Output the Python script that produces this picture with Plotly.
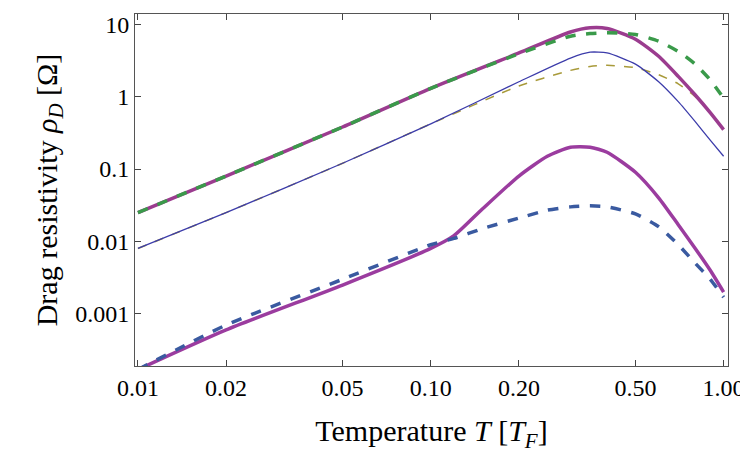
import plotly.graph_objects as go

T_hi = [0.01, 0.02, 0.05, 0.1, 0.2, 0.3, 0.35, 0.4, 0.5, 0.6, 0.7, 0.8, 0.9, 1.0]
A = [0.025, 0.08, 0.38, 1.3, 4.0, 7.8, 8.9, 8.7, 6.2, 3.6, 1.9, 1.05, 0.6, 0.35]
B = [0.025, 0.08, 0.38, 1.3, 3.9, 6.8, 7.4, 7.6, 7.2, 5.8, 4.2, 2.8, 1.7, 0.95]
C = [0.008, 0.025, 0.12, 0.42, 1.6, 3.4, 4.1, 4.0, 2.8, 1.6, 0.85, 0.45, 0.25, 0.15]
D = [0.008, 0.025, 0.12, 0.42, 1.4, 2.3, 2.6, 2.7, 2.5, 2.0, 1.5, 1.0, 0.6, 0.35]
T_lo = [0.01, 0.02, 0.05, 0.1, 0.12, 0.15, 0.2, 0.25, 0.3, 0.35, 0.4, 0.5, 0.6, 0.7, 0.8, 0.9, 1.0]
E = [0.00017, 0.0006, 0.0025, 0.008, 0.012, 0.028, 0.08, 0.15, 0.2, 0.2, 0.17, 0.09, 0.04, 0.017, 0.008, 0.004, 0.002]
F = [0.00017, 0.0007, 0.003, 0.009, 0.011, 0.015, 0.021, 0.027, 0.03, 0.031, 0.03, 0.024, 0.016, 0.009, 0.005, 0.003, 0.0017]

xt = [0.01, 0.02, 0.05, 0.1, 0.2, 0.5, 1.0]
xtl = ["0.01", "0.02", "0.05", "0.10", "0.20", "0.50", "1.00"]
yt = [0.001, 0.01, 0.1, 1, 10]
ytl = ["0.001", "0.01", "0.1", "1", "10"]

fig = go.Figure()
def add(x, y, color, width, dash):
    fig.add_trace(go.Scatter(x=x, y=y, mode="lines", line=dict(color=color, width=width, dash=dash, shape="spline", smoothing=0.6)))
add(T_hi, D, "#a89a3a", 1.5, "dash")
add(T_hi, C, "#3c3caa", 1.3, "solid")
add(T_hi, A, "#9b3c8f", 3.5, "solid")
add(T_hi, B, "#3a9a4a", 3.5, "dash")
add(T_lo, E, "#9b3c9f", 3.5, "solid")
add(T_lo, F, "#3a5aa0", 3.5, "dash")

ax = dict(showline=True, linecolor="#555", mirror="ticks", ticks="inside", ticklen=6,
          showgrid=False, zeroline=False, automargin=False, tickfont=dict(size=24))
fig.update_layout(
    width=748, height=467, showlegend=False, plot_bgcolor="white", paper_bgcolor="white",
    margin=dict(l=127, r=28, t=6, b=109),
    font=dict(family="Liberation Serif", size=24, color="black"),
    xaxis=dict(type="log", range=[-2.01, 0.015], tickvals=xt, ticktext=xtl,
               title=dict(text="Temperature <i>T</i> [<i>T<sub>F</sub></i>]", font=dict(size=30), standoff=20), **ax),
    yaxis=dict(type="log", range=[-3.72, 1.14], tickvals=yt, ticktext=ytl,
               title=dict(text="Drag resistivity <i>ρ<sub>D</sub></i> [Ω]", font=dict(size=30), standoff=8), **ax),
)
fig.write_html("out.html")
